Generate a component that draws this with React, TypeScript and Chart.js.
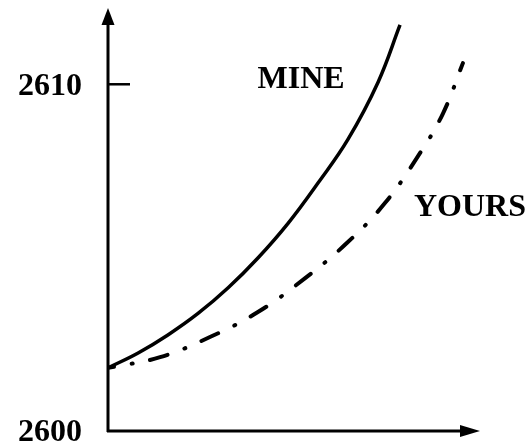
import React, { useEffect, useRef } from "react";
import { Chart, registerables } from "chart.js";

Chart.register(...registerables);

const mineX = [0, 0.81, 1.61, 2.42, 3.23, 4.03, 4.84, 5.65, 6.45, 7.26, 7.85];
const mineY = [2601.82, 2602.25, 2602.77, 2603.39, 2604.13, 2604.99, 2605.99, 2607.16, 2608.41, 2610.06, 2611.71];
const yoursX = [0, 1.4, 2.74, 4.03, 5.3, 6.42, 7.45, 8.39, 9.01, 9.54];
const yoursY = [2601.82, 2602.13, 2602.71, 2603.43, 2604.41, 2605.42, 2606.58, 2608.02, 2609.17, 2610.61];
const yTickLabels = [2600, 2610];
const seriesNames = ["MINE", "YOURS"];
const labelAnchors = [
  { x: 5.19, y: 2610.12 },
  { x: 9.73, y: 2606.43 },
];

const FONT = "bold 32px 'Liberation Serif', 'DejaVu Serif', serif";

const axesPlugin = {
  id: "handAxes",
  afterDatasetsDraw(chart: any) {
    const { ctx, chartArea, scales } = chart;
    const { left, right, top, bottom } = chartArea;
    ctx.save();
    ctx.strokeStyle = "#000";
    ctx.fillStyle = "#000";
    ctx.lineWidth = 3;
    ctx.lineCap = "butt";
    // y axis
    ctx.beginPath();
    ctx.moveTo(left, bottom + 1);
    ctx.lineTo(left, top + 12);
    ctx.stroke();
    // x axis
    ctx.beginPath();
    ctx.moveTo(left - 1, bottom);
    ctx.lineTo(right - 12, bottom);
    ctx.stroke();
    // arrow up
    ctx.beginPath();
    ctx.moveTo(left, top);
    ctx.lineTo(left - 6.5, top + 17);
    ctx.lineTo(left + 6.5, top + 17);
    ctx.closePath();
    ctx.fill();
    // arrow right
    ctx.beginPath();
    ctx.moveTo(right, bottom);
    ctx.lineTo(right - 20, bottom - 6);
    ctx.lineTo(right - 20, bottom + 6);
    ctx.closePath();
    ctx.fill();
    // tick labels and inner tick marks
    ctx.font = FONT;
    ctx.textAlign = "right";
    ctx.textBaseline = "middle";
    yTickLabels.forEach((v) => {
      const py = scales.y.getPixelForValue(v);
      ctx.fillText(String(v), left - 26, py + 2);
      if (v !== scales.y.min) {
        ctx.lineWidth = 2.5;
        ctx.beginPath();
        ctx.moveTo(left, py);
        ctx.lineTo(left + 22, py);
        ctx.stroke();
      }
    });
    // series labels
    ctx.textAlign = "center";
    seriesNames.forEach((name, i) => {
      const a = labelAnchors[i];
      ctx.fillText(name, scales.x.getPixelForValue(a.x), scales.y.getPixelForValue(a.y));
    });
    ctx.restore();
  },
};

export default function App() {
  const ref = useRef<HTMLCanvasElement>(null);
  useEffect(() => {
    const canvas = ref.current;
    if (!canvas) return;
    const chart = new Chart(canvas, {
      type: "line",
      data: {
        datasets: [
          {
            label: seriesNames[0],
            data: mineX.map((x, i) => ({ x, y: mineY[i] })),
            borderColor: "#000",
            borderWidth: 3.5,
            pointRadius: 0,
            tension: 0.4,
            fill: false,
          },
          {
            label: seriesNames[1],
            data: yoursX.map((x, i) => ({ x, y: yoursY[i] })),
            borderColor: "#000",
            borderWidth: 4,
            borderDash: [18, 18, 1, 18],
            borderDashOffset: 12,
            borderCapStyle: "round",
            pointRadius: 0,
            tension: 0.4,
            fill: false,
          },
        ],
      },
      options: {
        animation: false,
        responsive: false,
        devicePixelRatio: 1,
        layout: { padding: { left: 108, right: 51, top: 8, bottom: 17 } },
        plugins: { legend: { display: false }, tooltip: { enabled: false } },
        scales: {
          x: { type: "linear", min: 0, max: 10, display: false },
          y: { type: "linear", min: 2600, max: 2612.2, display: false },
        },
      },
      plugins: [axesPlugin],
    } as any);
    return () => chart.destroy();
  }, []);
  return (
    <div style={{ position: "absolute", left: 0, top: 0, width: 531, height: 448, background: "#fff" }}>
      <canvas ref={ref} width={531} height={448} />
    </div>
  );
}
